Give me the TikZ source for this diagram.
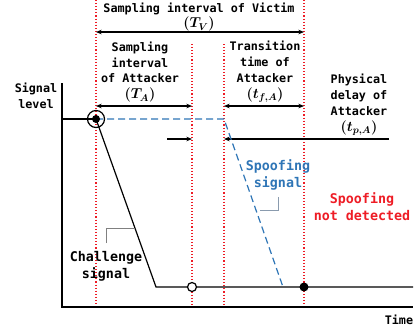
\documentclass[tikz,border=0pt]{standalone}
\usepackage{fontspec}
\setmonofont{DejaVu Sans Mono}
\usetikzlibrary{arrows.meta,positioning,calc}
\definecolor{Sred}{HTML}{EE1C25}
\definecolor{Sblue}{HTML}{2E75B6}
\definecolor{Lead}{HTML}{8A9BAE}
\newcommand\mth[1]{{\fontsize{14.5}{16}\selectfont\boldmath$#1$}}

\begin{document}
\begin{tikzpicture}[x=1bp, y=-1bp, line width=1.2bp,
  every node/.style={font=\ttfamily\bfseries\fontsize{11.8}{16}\selectfont, align=center, inner sep=0pt},
  big/.style={font=\ttfamily\bfseries\fontsize{13.4}{17}\selectfont},
  redline/.style={draw=Sred, dotted, line width=1.1bp},
  dim/.style={{Stealth[length=2mm,width=1.6mm]}-{Stealth[length=2mm,width=1.6mm]}}]
\useasboundingbox (0,0) rectangle (417,328);
% sampling instants
\foreach \x/\t in {96/0,192/44,224/44,304/0}{\draw[redline] (\x,\t) -- (\x,307);}
% axes
\coordinate (top) at (62,83);
\coordinate (org) at (62,307);
\coordinate (xend) at (413,307);
\draw (top) -- (org) -- (xend);
\node (time) at (399,320) {Time};
\node (level) at (36,96) {Signal\\level};
% dimension labels
\node (tv) at (199,17) {Sampling interval of Victim\\\mth{(T_V)}};
\node (ta) at (140,72) {Sampling\\interval\\of Attacker\\\mth{(T_A)}};
\node (tf) at (265,72) {Transition\\time of\\Attacker\\\mth{(t_{f,A})}};
\node (tp) at (359,105) {Physical\\delay of\\Attacker\\\mth{(t_{p,A})}};
\coordinate (v1) at (96,32); \coordinate (v2) at (304,32);
\coordinate (a1) at (96,106); \coordinate (a2) at (192,106);
\coordinate (f1) at (224,106); \coordinate (f2) at (304,106);
\foreach \p/\q in {v1/v2,a1/a2,f1/f2}{\draw[dim] (\p) -- (\q);}
\coordinate (p1) at (389,139); \coordinate (p2) at (224,139);
\coordinate (p3) at (167,139); \coordinate (p4) at (192,139);
\draw[-{Stealth[length=2mm,width=1.6mm]}] (p1) -- (p2);
\draw[-{Stealth[length=2mm,width=1.6mm]}] (p3) -- (p4);
% signals
\coordinate (hi) at (96,119);
\coordinate (lo) at (156,287);
\coordinate (hold) at (224,119);
\coordinate (sp) at (283,287);
\coordinate (rend) at (413,287);
\draw (62,119) -- (hi);
\draw[Sblue, dash pattern=on 7bp off 4bp] (hi) -- (hold) -- (sp);
\draw (hi) -- (lo) -- (rend);
\node[circle, draw, minimum size=17bp] (ring) at (hi) {};
\node[circle, fill, minimum size=8bp] (dot) at (hi) {};
\node[circle, draw, fill=white, minimum size=9bp] (miss) at (192,287) {};
\node[circle, fill, minimum size=9bp] (hit) at (304,287) {};
% callouts
\node[big] (chal) at (106,266) {Challenge\\signal};
\node[big, text=Sblue] (spoof) at (278,175) {Spoofing\\signal};
\node[big, text=Sred] (nd) at (362,207) {Spoofing\\not detected};
\coordinate (c1) at (106,243); \coordinate (c2) at (135,228);
\coordinate (s1) at (278,197); \coordinate (s2) at (260,210);
\draw[gray, line width=1bp] (c1) |- (c2);
\draw[Lead, line width=1bp] (s1) |- (s2);
\end{tikzpicture}
\end{document}
